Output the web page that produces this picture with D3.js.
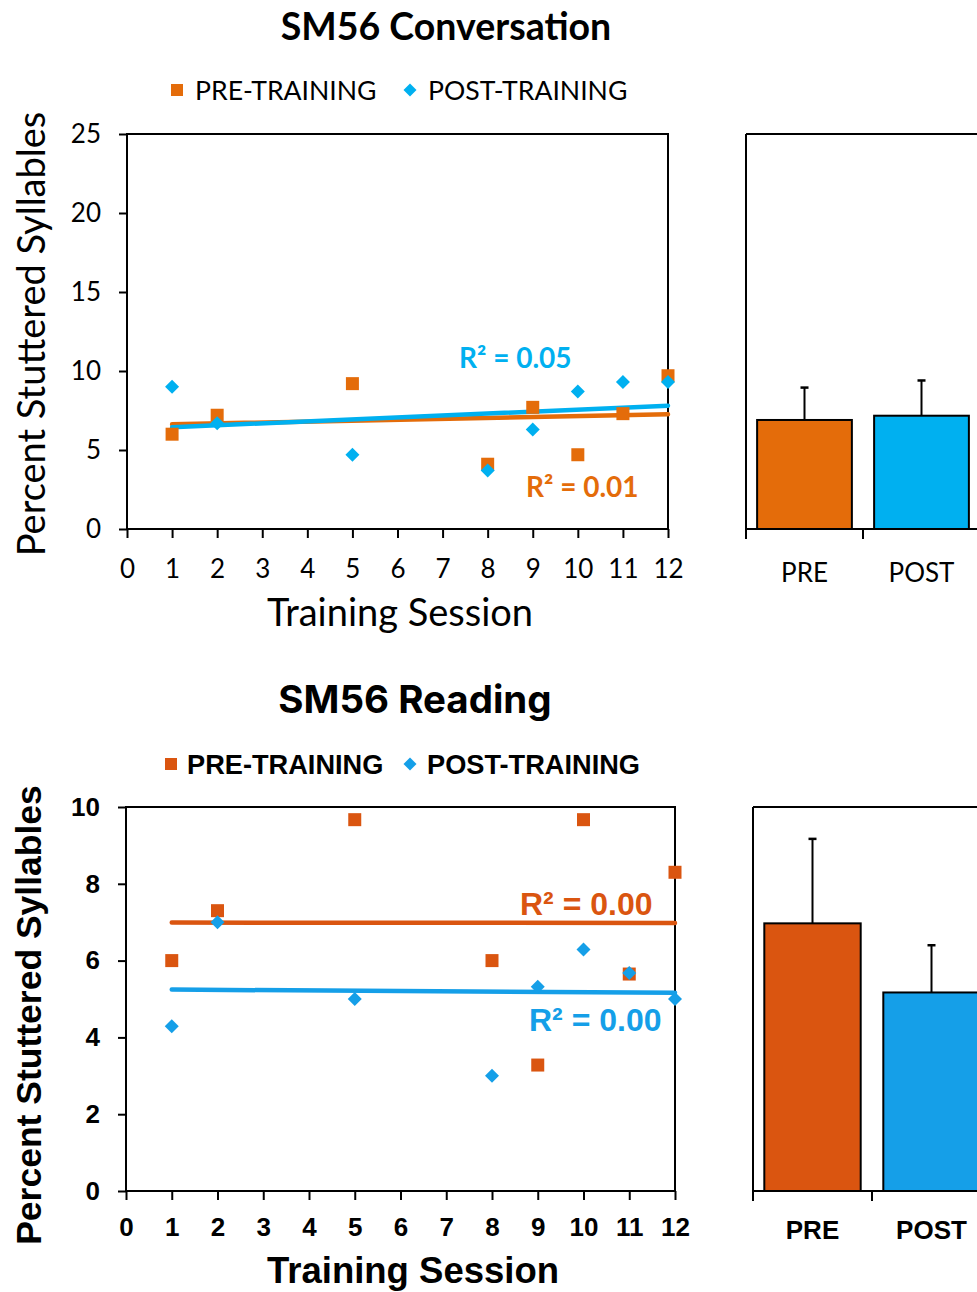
<!DOCTYPE html>
<html>
<head>
<meta charset="utf-8">
<script src="https://cdn.jsdelivr.net/npm/d3@7"></script>
<style>
  body { margin: 0; background: #fff; }
  svg { display: block; }
</style>
</head>
<body>
<script>
// Data
const sessions = [1, 2, 5, 8, 9, 10, 11, 12];
const convPre = [6.0, 7.2, 9.2, 4.1, 7.7, 4.7, 7.3, 9.7];
const convPost = [9.0, 6.7, 4.7, 3.7, 6.3, 8.7, 9.3, 9.3];
const readPre = [6.0, 7.3, 9.67, 6.0, 3.28, 9.67, 5.65, 8.3];
const readPost = [4.29, 7.0, 5.0, 3.0, 5.32, 6.29, 5.68, 5.0];

const groups = ['PRE', 'POST'];
const convMeans = [6.9, 7.17];
const convErr = [2.05, 2.23];
const readMeans = [6.97, 5.17];
const readErr = [2.2, 1.23];

const convR2 = ['R² = 0.01', 'R² = 0.05'];
const readR2 = ['R² = 0.00', 'R² = 0.00'];

const xTicks = [0, 1, 2, 3, 4, 5, 6, 7, 8, 9, 10, 11, 12];
const convYTicks = [0, 5, 10, 15, 20, 25];
const readYTicks = [0, 2, 4, 6, 8, 10];

const svg = d3.select('body').append('svg')
    .attr('width', 977)
    .attr('height', 1292);

// least squares line, as Excel's linear trendline
function fit(xs, ys) {
    const mx = d3.mean(xs), my = d3.mean(ys);
    const b = d3.sum(xs, (v, i) => (v - mx) * (ys[i] - my)) / d3.sum(xs, v => (v - mx) ** 2);
    return v => my + b * (v - mx);
}

function marker(sel, kind, size, color) {
    if (kind === 'square') {
        sel.attr('d', d3.symbol(d3.symbolSquare, size * size)()).attr('fill', color);
    } else {
        // Excel diamond = square turned 45deg
        const s = size / Math.SQRT2;
        sel.attr('d', d3.symbol(d3.symbolSquare, s * s)())
            .attr('fill', color);
    }
}

function panel(o) {
    const g = svg.append('g');
    const x = d3.scaleLinear().domain([0, 12]).range([o.left, o.right]);
    const y = d3.scaleLinear().domain([0, o.yMax]).range([o.bottom, o.top]);

    // Title
    g.append('text')
        .attr('x', o.titleX)
        .attr('y', o.titleY)
        .attr('text-anchor', 'middle')
        .style('font-family', o.titleFont)
        .style('font-weight', 700)
        .style('font-size', o.titleSize + 'px')
        .text(o.title);

    // Legend
    const leg = g.append('g').attr('transform', `translate(0,${o.legY})`);
    leg.append('path')
        .attr('transform', `translate(${o.legX[0]},0)`)
        .call(marker, 'square', o.legMark, o.preColor);
    leg.append('path')
        .attr('transform', `translate(${o.legX[2]},0) rotate(45)`)
        .call(marker, 'diamond', o.legMark + 1, o.postColor);
    [['PRE-TRAINING', o.legX[1]], ['POST-TRAINING', o.legX[3]]].forEach(([t, lx]) => {
        leg.append('text')
            .attr('x', lx)
            .attr('dy', '0.36em')
            .style('font-family', o.font)
            .style('font-weight', o.legWeight)
            .style('font-size', o.legSize + 'px')
            .text(t);
    });

    // Frame
    g.append('rect')
        .attr('x', o.left).attr('y', o.top)
        .attr('width', o.right - o.left).attr('height', o.bottom - o.top)
        .attr('fill', 'none')
        .attr('stroke', '#000')
        .attr('stroke-width', 2);

    // Axes
    const xAxis = g.append('g')
        .attr('transform', `translate(0,${o.bottom})`)
        .call(d3.axisBottom(x).tickValues(xTicks).tickSize(9).tickSizeOuter(0).tickPadding(o.xPad));
    const yAxis = g.append('g')
        .attr('transform', `translate(${o.left},0)`)
        .call(d3.axisLeft(y).tickValues(o.yTicks).tickSize(8).tickSizeOuter(0).tickPadding(o.yPad));
    [xAxis, yAxis].forEach(a => {
        a.select('.domain').remove();
        a.selectAll('line').attr('stroke', '#000').attr('stroke-width', 2);
        a.selectAll('text')
            .attr('fill', '#000')
            .style('font-family', o.font)
            .style('font-weight', o.tickWeight)
            .style('font-size', o.tickSize + 'px');
    });

    // Axis titles
    g.append('text')
        .attr('x', o.xTitleX)
        .attr('y', o.xTitleY)
        .attr('text-anchor', 'middle')
        .style('font-family', o.font)
        .style('font-weight', o.axisWeight)
        .style('font-size', o.xTitleSize + 'px')
        .text('Training Session');
    g.append('text')
        .attr('transform', `translate(${o.yTitleX},${o.yTitleY}) rotate(-90)`)
        .attr('text-anchor', 'middle')
        .style('font-family', o.font)
        .style('font-weight', o.axisWeight)
        .style('font-size', o.yTitleSize + 'px')
        .text('Percent Stuttered Syllables');

    // Trendlines
    [[o.pre, o.preColor], [o.post, o.postColor]].forEach(([ys, c]) => {
        const f = fit(sessions, ys);
        const ext = d3.extent(sessions);
        g.append('line')
            .attr('x1', x(ext[0])).attr('y1', y(f(ext[0])))
            .attr('x2', x(ext[1])).attr('y2', y(f(ext[1])))
            .attr('stroke', c)
            .attr('stroke-width', 4.5)
            .attr('stroke-linecap', 'round');
    });

    // Points
    g.selectAll('.pre')
        .data(sessions.map((s, i) => [s, o.pre[i]]))
        .join('path')
        .attr('class', 'pre')
        .attr('transform', d => `translate(${x(d[0])},${y(d[1])})`)
        .call(marker, 'square', 13, o.preColor);
    g.selectAll('.post')
        .data(sessions.map((s, i) => [s, o.post[i]]))
        .join('path')
        .attr('class', 'post')
        .attr('transform', d => `translate(${x(d[0])},${y(d[1])}) rotate(45)`)
        .call(marker, 'diamond', 14, o.postColor);

    // R² labels
    [[o.r2[0], o.r2Pos[0], o.preColor], [o.r2[1], o.r2Pos[1], o.postColor]].forEach(([t, p, c]) => {
        g.append('text')
            .attr('x', p[0]).attr('y', p[1])
            .attr('fill', c)
            .style('font-family', o.font)
            .style('font-weight', 700)
            .style('font-size', o.r2Size + 'px')
            .text(t);
    });

    // Bar panel (PRE / POST means)
    const band = o.barBand;
    const bx = d3.scaleBand().domain(groups)
        .range([o.barLeft, o.barLeft + 2 * band])
        .paddingInner(0.19).paddingOuter(0.095);
    const bars = g.append('g');
    bars.append('line')
        .attr('x1', o.barLeft).attr('x2', o.barLeft + 2 * band + 20)
        .attr('y1', o.top).attr('y2', o.top)
        .attr('stroke', '#000').attr('stroke-width', 2);
    bars.append('line')
        .attr('x1', o.barLeft).attr('x2', o.barLeft)
        .attr('y1', o.top).attr('y2', o.bottom + 10)
        .attr('stroke', '#000').attr('stroke-width', 2);
    bars.selectAll('.bar')
        .data(groups.map((k, i) => ({ k, m: o.means[i], e: o.errs[i], c: i ? o.postBar : o.preBar })))
        .join('rect')
        .attr('class', 'bar')
        .attr('x', d => bx(d.k))
        .attr('y', d => y(d.m))
        .attr('width', bx.bandwidth())
        .attr('height', d => y(0) - y(d.m))
        .attr('fill', d => d.c)
        .attr('stroke', '#000')
        .attr('stroke-width', 2);
    const err = bars.selectAll('.err')
        .data(groups.map((k, i) => ({ k, m: o.means[i], e: o.errs[i] })))
        .join('g')
        .attr('class', 'err')
        .attr('transform', d => `translate(${bx(d.k) + bx.bandwidth() / 2},0)`);
    err.append('line')
        .attr('y1', d => y(d.m)).attr('y2', d => y(d.m + d.e))
        .attr('stroke', '#000').attr('stroke-width', 2);
    err.append('line')
        .attr('x1', -4).attr('x2', 4)
        .attr('y1', d => y(d.m + d.e)).attr('y2', d => y(d.m + d.e))
        .attr('stroke', '#000').attr('stroke-width', 2.5);
    bars.append('line')
        .attr('x1', o.barLeft).attr('x2', o.barLeft + 2 * band + 20)
        .attr('y1', o.bottom).attr('y2', o.bottom)
        .attr('stroke', '#000').attr('stroke-width', 2);
    [0, 1, 2].forEach(i => {
        bars.append('line')
            .attr('x1', o.barLeft + i * bx.step()).attr('x2', o.barLeft + i * bx.step())
            .attr('y1', o.bottom).attr('y2', o.bottom + 10)
            .attr('stroke', '#000').attr('stroke-width', 2);
    });
    bars.selectAll('.blab')
        .data(groups)
        .join('text')
        .attr('class', 'blab')
        .attr('x', d => bx(d) + bx.bandwidth() / 2)
        .attr('y', o.barLabY)
        .attr('text-anchor', 'middle')
        .style('font-family', o.font)
        .style('font-weight', o.tickWeight)
        .style('font-size', o.tickSize + 'px')
        .text(d => d);
}

// Top: SM56 Conversation
panel({
    title: 'SM56 Conversation', titleX: 446, titleY: 40, titleSize: 37.5, titleFont: 'Lato',
    font: 'Lato', legWeight: 400, tickWeight: 400, axisWeight: 400,
    legY: 90, legX: [177, 195, 410, 428], legSize: 26.6, legMark: 12,
    left: 127, right: 668, top: 134, bottom: 529, yMax: 25, yTicks: convYTicks,
    xPad: 22, yPad: 18, tickSize: 26, xTitleSize: 38, yTitleSize: 38,
    xTitleX: 400, xTitleY: 626, yTitleX: 45, yTitleY: 334,
    pre: convPre, post: convPost, preColor: '#E46C0A', postColor: '#00B0F0',
    r2: convR2, r2Pos: [[526, 497], [459, 368]], r2Size: 28,
    barLeft: 746, barBand: 117, means: convMeans, errs: convErr,
    preBar: '#E46C0A', postBar: '#00B0F0', barLabY: 582
});

// Bottom: SM56 Reading
panel({
    title: 'SM56 Reading', titleX: 415, titleY: 713, titleSize: 38.5, titleFont: 'Inter',
    font: 'Liberation Sans', legWeight: 700, tickWeight: 700, axisWeight: 700,
    legY: 764, legX: [171, 187, 410, 427], legSize: 27.2, legMark: 12,
    left: 126, right: 675, top: 807, bottom: 1191, yMax: 10, yTicks: readYTicks,
    xPad: 18, yPad: 18, tickSize: 26, xTitleSize: 36.5, yTitleSize: 35.5,
    xTitleX: 413, xTitleY: 1283, yTitleX: 41, yTitleY: 1015,
    pre: readPre, post: readPost, preColor: '#DA5510', postColor: '#159FE8',
    r2: readR2, r2Pos: [[520, 915], [529, 1031]], r2Size: 32,
    barLeft: 753, barBand: 119, means: readMeans, errs: readErr,
    preBar: '#DA5510', postBar: '#159FE8', barLabY: 1239
});
</script>
</body>
</html>
